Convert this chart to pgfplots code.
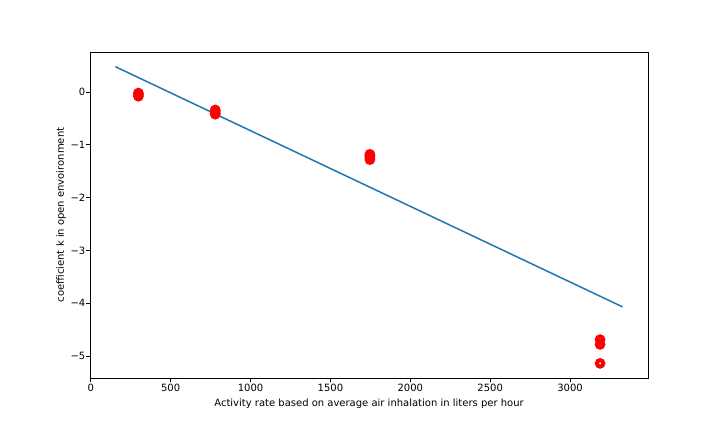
\documentclass[border=0pt]{standalone}
\usepackage{fontspec}
\setmainfont{DejaVu Sans}
\usepackage{pgfplots}
\pgfplotsset{compat=1.18}
\definecolor{mplblue}{RGB}{31,119,180}
\begin{document}
\fontsize{10bp}{12bp}\selectfont%
\begin{tikzpicture}[x=1bp,y=1bp]
\begin{axis}[name=ax, scale only axis,
 width=558bp, height=326bp,
 xmin=-5, xmax=3488, ymin=-5.417, ymax=0.758,
 xtick={0,500,1000,1500,2000,2500,3000},
 xticklabels={0,500,1000,1500,2000,2500,3000},
 ytick={-5,-4,-3,-2,-1,0},
 yticklabels={−5,−4,−3,−2,−1,0},
 tick align=outside, tick pos=left, major tick length=3.5bp,
 every tick/.style={black, line width=0.8bp},
 axis line style={black, line width=0.8bp},
 ticklabel style={font=\fontsize{10bp}{12bp}\selectfont, inner sep=1bp},
 xticklabel style={yshift=-1.5bp},
 label style={font=\fontsize{10bp}{12bp}\selectfont},
 xlabel style={yshift=-3bp},
 xlabel={Activity rate based on average air inhalation in liters per hour},
 ylabel={coefficient k in open envoironment},
 clip=false,
]
\addplot[only marks, mark=o, mark size=3.25bp, mark options={draw=red, line width=4bp}]
 coordinates {
 (298,-0.02) (298,-0.05) (298,-0.08)
 (779,-0.34) (779,-0.37) (779,-0.40) (779,-0.42)
 (1747,-1.18) (1747,-1.21) (1747,-1.24) (1747,-1.28)
 (3188,-4.69) (3188,-4.78) (3188,-5.14)
 };
\addplot[mplblue, line width=1.5bp] coordinates {(154,0.48) (3329,-4.07)};
\end{axis}
\pgfresetboundingbox
\path[use as bounding box] (ax.south west) ++(-90,-54) rectangle ++(720,432);
\end{tikzpicture}
\end{document}
